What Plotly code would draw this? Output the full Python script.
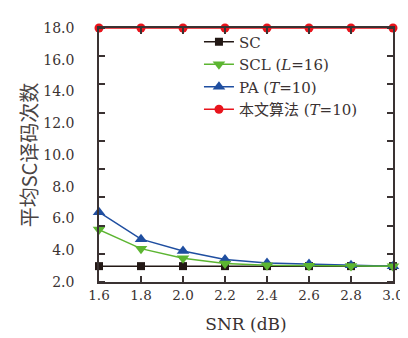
import plotly.graph_objects as go

snr = [1.6, 1.8, 2.0, 2.2, 2.4, 2.6, 2.8, 3.0]
sc = [3.0, 3.0, 3.0, 3.0, 3.0, 3.0, 3.0, 3.0]
scl = [5.3, 4.1, 3.5, 3.17, 3.05, 3.02, 3.01, 3.0]
pa = [6.4, 4.7, 3.95, 3.42, 3.2, 3.13, 3.05, 3.0]
prop = [18.0, 18.0, 18.0, 18.0, 18.0, 18.0, 18.0, 18.0]
ytick_labels = [2, 4, 6, 8, 10, 12, 14, 16, 18]
x_ticks = [1.6, 1.8, 2.0, 2.2, 2.4, 2.6, 2.8, 3.0]

FONT = "DejaVu Serif"
CJK = "DejaVu Serif, Noto Sans CJK SC"
AX = "#3a3232"
TXT = "#3a3232"

fig = go.Figure()
common = dict(mode="lines+markers", cliponaxis=False)
fig.add_trace(go.Scatter(x=snr, y=sc, name="SC",
                         line=dict(color="#231815", width=1.5),
                         marker=dict(symbol="square", size=8, color="#231815"),
                         legendrank=1, **common))
fig.add_trace(go.Scatter(x=snr, y=pa, name="PA (<i>T</i>=10)",
                         line=dict(color="#1f4ea0", width=1.5),
                         marker=dict(symbol="triangle-up", size=11, color="#1f4ea0"),
                         legendrank=3, **common))
fig.add_trace(go.Scatter(x=snr, y=scl, name="SCL (<i>L</i>=16)",
                         line=dict(color="#5cb531", width=1.5),
                         marker=dict(symbol="triangle-down", size=11, color="#5cb531"),
                         legendrank=2, **common))
fig.add_trace(go.Scatter(x=snr, y=prop, name="本文算法 (<i>T</i>=10)",
                         line=dict(color="#e8141c", width=1.5),
                         marker=dict(symbol="circle", size=9, color="#e8141c"),
                         legendrank=4, **common))

fig.update_layout(
    width=408, height=338,
    margin=dict(l=91, r=14, t=15, b=64),
    paper_bgcolor="white", plot_bgcolor="white",
    font=dict(family=FONT, size=14, color=TXT),
    showlegend=True,
    legend=dict(x=0.34, y=1.01, xanchor="left", yanchor="top",
                bgcolor="rgba(0,0,0,0)", borderwidth=0,
                font=dict(family=CJK, size=15, color=TXT),
                tracegroupgap=0, itemwidth=30),
    xaxis=dict(range=[1.6, 3.0], tickvals=x_ticks, tickformat=".1f",
               ticks="inside", ticklen=6, tickcolor=AX, tickwidth=1.5,
               showline=True, linecolor=AX, linewidth=1.5, mirror="allticks",
               showgrid=False, zeroline=False, layer="above traces",
               tickfont=dict(family=FONT, size=13.5),
               title=dict(text="SNR (dB)", font=dict(family=FONT, size=17), standoff=16)),
    yaxis=dict(range=[2, 18], tickvals=ytick_labels, tickformat=".1f",
               ticks="", showline=True, linecolor=AX, linewidth=1.5, mirror="allticks",
               showgrid=False, zeroline=False, layer="above traces",
               minor=dict(tick0=2, dtick=16 / 9, ticks="inside", ticklen=6,
                          tickcolor=AX, tickwidth=1.5, showgrid=False),
               ticklabelstandoff=20, tickfont=dict(family=FONT, size=14),
               title=dict(text="平均SC译码次数",
                          font=dict(family="Noto Sans CJK SC", size=20, color="#4a4444"),
                          standoff=0)),
)

fig.write_html("out.html")
